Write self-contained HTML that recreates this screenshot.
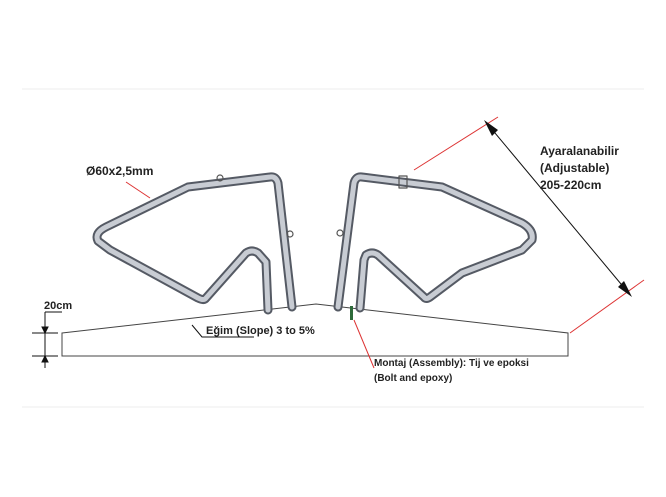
<!DOCTYPE html>
<html><head><meta charset="utf-8"><style>
html,body{margin:0;padding:0;background:#fff;}
svg{display:block;}
text{font-family:"Liberation Sans",sans-serif;font-weight:bold;fill:#222;}
</style></head><body>
<svg width="666" height="497" viewBox="0 0 666 497">
<defs>
<linearGradient id="tube" x1="0" y1="0" x2="1" y2="1"><stop offset="0" stop-color="#9aa0aa"/><stop offset="1" stop-color="#6d7380"/></linearGradient>
</defs>
<line x1="22" y1="89" x2="644" y2="89" stroke="#eee"/>
<line x1="22" y1="407" x2="644" y2="407" stroke="#eee"/>
<!-- slab -->
<path d="M62,333 L316,304 L568,333 L568,356 L62,356 Z" fill="#fff" stroke="#444" stroke-width="1"/>
<!-- left frame -->
<g fill="none" stroke-linejoin="round" stroke-linecap="round">
<path d="M292,307 L278,183 Q276,176 270,177 L188,187 L106,227 Q94,233 98,241 L110,250 L198,298 Q204,301 206,298 L246,253 Q252,249 258,253 L266,262 L268,310" stroke="#555a64" stroke-width="9"/>
<path d="M292,307 L278,183 Q276,176 270,177 L188,187 L106,227 Q94,233 98,241 L110,250 L198,298 Q204,301 206,298 L246,253 Q252,249 258,253 L266,262 L268,310" stroke="#c8ccd3" stroke-width="5"/>
<circle cx="220" cy="178" r="3" stroke="#555" stroke-width="1.2"/>
<circle cx="290" cy="234" r="3" stroke="#555" stroke-width="1.2"/>
</g>
<!-- right frame -->
<g fill="none" stroke-linejoin="round" stroke-linecap="round">
<path d="M338,307 L354,183 Q356,176 362,177 L442,187 L522,223 Q534,230 532,240 L522,250 L462,273 L430,297 Q426,300 424,297 L378,255 Q372,251 366,255 L364,260 L360,308" stroke="#555a64" stroke-width="9"/>
<path d="M338,307 L354,183 Q356,176 362,177 L442,187 L522,223 Q534,230 532,240 L522,250 L462,273 L430,297 Q426,300 424,297 L378,255 Q372,251 366,255 L364,260 L360,308" stroke="#c8ccd3" stroke-width="5"/>
<rect x="399" y="176" width="8" height="12" stroke="#555" stroke-width="1.2"/>
<circle cx="340" cy="233" r="3" stroke="#555" stroke-width="1.2"/>
</g>
<rect x="350" y="306" width="3" height="14" fill="#2d6a3a"/>
<!-- red leaders -->
<line x1="126" y1="182" x2="150" y2="198" stroke="#d33" stroke-width="1"/>
<line x1="414" y1="170" x2="498" y2="117" stroke="#d33" stroke-width="1"/>
<line x1="570" y1="333" x2="644" y2="280" stroke="#d33" stroke-width="1"/>
<polyline points="354,320 374,368" fill="none" stroke="#d33" stroke-width="1"/>
<!-- adjustable dimension -->
<g>
<line x1="490" y1="127" x2="626" y2="290" stroke="#111" stroke-width="1"/>
<polygon points="484,120 498,130 492,136" fill="#111"/>
<polygon points="632,297 618,287 624,281" fill="#111"/>
</g>
<text x="540" y="155" font-size="12">Ayaralanabilir</text>
<text x="540" y="172" font-size="12">(Adjustable)</text>
<text x="540" y="189" font-size="12">205-220cm</text>
<text x="86" y="175" font-size="12">Ø60x2,5mm</text>
<!-- 20cm dimension -->
<g stroke="#111" stroke-width="1">
<line x1="32" y1="333" x2="58" y2="333"/>
<line x1="32" y1="356" x2="58" y2="356"/>
<line x1="45" y1="312" x2="62" y2="312"/>
<line x1="45" y1="312" x2="45" y2="368"/>
<polygon points="42,327 48,327 45,333" fill="#111"/>
<polygon points="42,362 48,362 45,356" fill="#111"/>
</g>
<text x="44" y="309" font-size="11">20cm</text>
<polyline points="192,325 202,337 254,337" fill="none" stroke="#111" stroke-width="1"/>
<text x="206" y="334" font-size="11">Eğim (Slope) 3 to 5%</text>
<text x="374" y="366" font-size="10" font-weight="normal" style="font-weight:bold">Montaj (Assembly): Tij ve epoksi</text>
<text x="374" y="381" font-size="10">(Bolt and epoxy)</text>
</svg>
</body></html>
